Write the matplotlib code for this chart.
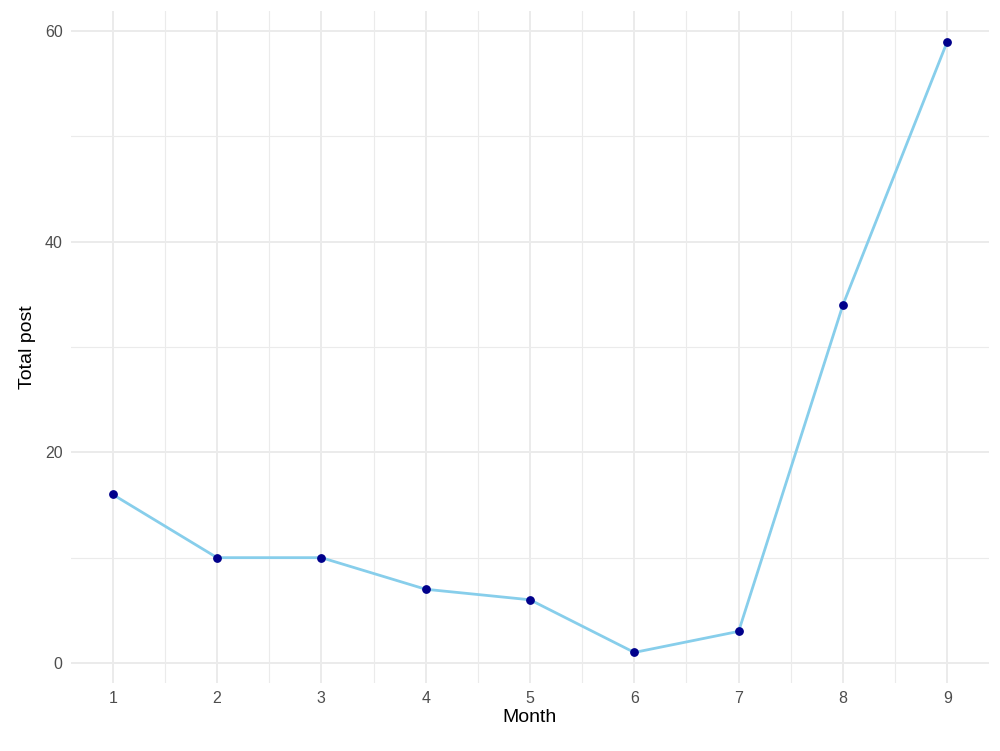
import matplotlib
matplotlib.use("Agg")
import matplotlib.pyplot as plt
from matplotlib.ticker import MultipleLocator

months = [1, 2, 3, 4, 5, 6, 7, 8, 9]
total_post = [16, 10, 10, 7, 6, 1, 3, 34, 59]

plt.rcParams['font.family'] = ['Liberation Sans', 'DejaVu Sans']

fig = plt.figure(figsize=(10, 7.51), dpi=100)
ax = fig.add_axes([0.071, (751 - 683) / 751, 0.918, (683 - 11) / 751])

ax.plot(months, total_post, color='#87CEEB', linewidth=2, zorder=3)
ax.scatter(months, total_post, color='#00008B', s=28, zorder=4)

ax.set_xlim(0.6, 9.4)
ax.set_ylim(-1.9, 61.9)
ax.xaxis.set_major_locator(MultipleLocator(1))
ax.xaxis.set_minor_locator(MultipleLocator(0.5))
ax.yaxis.set_major_locator(MultipleLocator(20))
ax.yaxis.set_minor_locator(MultipleLocator(10))

ax.grid(which='major', color='#EBEBEB', linewidth=1.4)
ax.grid(which='minor', color='#EBEBEB', linewidth=0.8)
ax.set_axisbelow(True)
for s in ax.spines.values():
    s.set_visible(False)
ax.tick_params(which='both', length=0, labelsize=11.5, labelcolor='#4D4D4D', pad=6)

ax.set_xlabel("Month", fontsize=14, color='black', labelpad=2)
ax.set_ylabel("Total post", fontsize=14, color='black', labelpad=6)

fig.savefig("out.png", dpi=100)
